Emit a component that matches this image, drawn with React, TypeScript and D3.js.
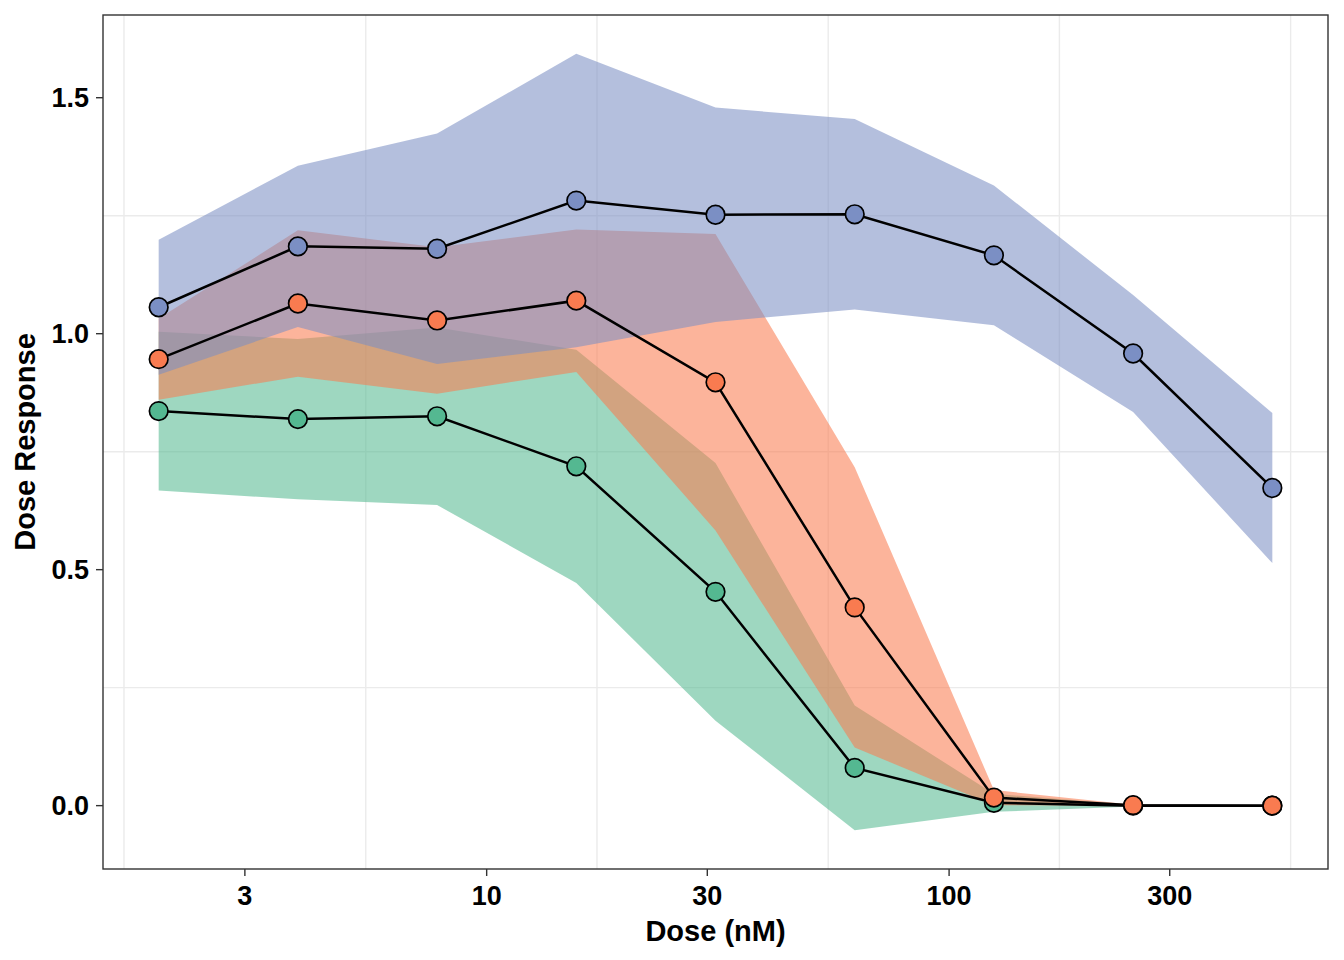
import React from 'react'
import * as d3 from 'd3'

// doses are 2-fold dilutions (nM)
const doses = [1.953125, 3.90625, 7.8125, 15.625, 31.25, 62.5, 125, 250, 500]

const greenMean = [0.836, 0.819, 0.825, 0.719, 0.453, 0.08, 0.006, 0.0, 0.0]
const greenSd = [0.168, 0.17, 0.188, 0.247, 0.273, 0.132, 0.019, 0.002, 0.001]

const orangeMean = [0.946, 1.064, 1.028, 1.07, 0.897, 0.42, 0.017, 0.001, 0.0]
const orangeSd = [0.086, 0.155, 0.155, 0.151, 0.314, 0.297, 0.016, 0.001, 0.001]

const blueMean = [1.056, 1.185, 1.18, 1.282, 1.252, 1.253, 1.166, 0.958, 0.673]
const blueSd = [0.143, 0.171, 0.244, 0.311, 0.227, 0.202, 0.148, 0.124, 0.159]

const xTicks = [3, 10, 30, 100, 300]
const yTicks = [0, 0.5, 1.0, 1.5]

const series = [
  { key: 'green', color: '#54B891', mean: greenMean, sd: greenSd },
  { key: 'orange', color: '#F97B50', mean: orangeMean, sd: orangeSd },
  { key: 'blue', color: '#7B8FC4', mean: blueMean, sd: blueSd },
]

const W = 1344
const H = 960
const panel = { left: 103, right: 1328, top: 15, bottom: 869 }
const font = '"Liberation Sans", Arial, Helvetica, sans-serif'

// ggplot-like 5% expansion
const expand = (lo: number, hi: number) => {
  const d = (hi - lo) * 0.05
  return [lo - d, hi + d]
}

// midpoints between major breaks, extended one step past each end
const minorBreaks = (b: number[], lo: number, hi: number) => {
  const bd0 = b[1] - b[0]
  const ext = [b[0] - bd0, ...b, b[b.length - 1] + bd0]
  const out: number[] = []
  for (let i = 0; i < ext.length - 1; i++) out.push((ext[i] + ext[i + 1]) / 2)
  return out.filter((v) => v > lo && v < hi)
}

export default function App() {
  const logD = doses.map((d) => Math.log10(d))
  const [lx0, lx1] = expand(d3.min(logD)!, d3.max(logD)!)
  const x = d3
    .scaleLog()
    .domain([Math.pow(10, lx0), Math.pow(10, lx1)])
    .range([panel.left, panel.right])

  const lows = series.flatMap((s) => s.mean.map((m, i) => m - s.sd[i]))
  const highs = series.flatMap((s) => s.mean.map((m, i) => m + s.sd[i]))
  const [y0, y1] = expand(d3.min(lows)!, d3.max(highs)!)
  const y = d3.scaleLinear().domain([y0, y1]).range([panel.bottom, panel.top])

  const xMinor = minorBreaks(
    xTicks.map((t) => Math.log10(t)),
    lx0,
    lx1
  ).map((v) => Math.pow(10, v))
  const yMinor = minorBreaks(yTicks, y0, y1)

  return (
    <svg
      width={W}
      height={H}
      style={{ position: 'absolute', left: 0, top: 0, background: '#fff' }}
    >
      <rect x={0} y={0} width={W} height={H} fill="#fff" />
      <defs>
        <clipPath id="panel">
          <rect
            x={panel.left}
            y={panel.top}
            width={panel.right - panel.left}
            height={panel.bottom - panel.top}
          />
        </clipPath>
      </defs>

      {/* minor grid only */}
      {xMinor.map((v) => (
        <line
          key={'xm' + v}
          x1={x(v)}
          x2={x(v)}
          y1={panel.top}
          y2={panel.bottom}
          stroke="#EBEBEB"
          strokeWidth={1.4}
        />
      ))}
      {yMinor.map((v) => (
        <line
          key={'ym' + v}
          x1={panel.left}
          x2={panel.right}
          y1={y(v)}
          y2={y(v)}
          stroke="#EBEBEB"
          strokeWidth={1.4}
        />
      ))}

      <g clipPath="url(#panel)">
        {series.map((s) => {
          const ribbon = d3
            .area<number>()
            .x((_, i) => x(doses[i]))
            .y0((_, i) => y(s.mean[i] - s.sd[i]))
            .y1((_, i) => y(s.mean[i] + s.sd[i]))
          return (
            <path
              key={'rib' + s.key}
              d={ribbon(s.mean) || ''}
              fill={s.color}
              fillOpacity={0.57}
            />
          )
        })}
        {series.map((s) => {
          const line = d3
            .line<number>()
            .x((_, i) => x(doses[i]))
            .y((d) => y(d))
          return (
            <path
              key={'line' + s.key}
              d={line(s.mean) || ''}
              fill="none"
              stroke="#000"
              strokeWidth={2.5}
            />
          )
        })}
        {series.map((s) =>
          s.mean.map((m, i) => (
            <circle
              key={'pt' + s.key + i}
              cx={x(doses[i])}
              cy={y(m)}
              r={9.3}
              fill={s.color}
              stroke="#000"
              strokeWidth={1.7}
            />
          ))
        )}
      </g>

      <rect
        x={panel.left}
        y={panel.top}
        width={panel.right - panel.left}
        height={panel.bottom - panel.top}
        fill="none"
        stroke="#333"
        strokeWidth={1.4}
      />

      {/* x axis */}
      {xTicks.map((t) => (
        <g key={'xt' + t}>
          <line
            x1={x(t)}
            x2={x(t)}
            y1={panel.bottom}
            y2={panel.bottom + 7}
            stroke="#333"
            strokeWidth={1.4}
          />
          <text
            x={x(t)}
            y={panel.bottom + 36}
            textAnchor="middle"
            fontFamily={font}
            fontWeight="bold"
            fontSize={27}
            fill="#000"
          >
            {t}
          </text>
        </g>
      ))}
      <text
        x={(panel.left + panel.right) / 2}
        y={941}
        textAnchor="middle"
        fontFamily={font}
        fontWeight="bold"
        fontSize={29}
        fill="#000"
      >
        Dose (nM)
      </text>

      {/* y axis */}
      {yTicks.map((t) => (
        <g key={'yt' + t}>
          <line
            x1={panel.left - 7}
            x2={panel.left}
            y1={y(t)}
            y2={y(t)}
            stroke="#333"
            strokeWidth={1.4}
          />
          <text
            x={panel.left - 14}
            y={y(t) + 9.5}
            textAnchor="end"
            fontFamily={font}
            fontWeight="bold"
            fontSize={27}
            fill="#000"
          >
            {d3.format('.1f')(t)}
          </text>
        </g>
      ))}
      <text
        transform={`translate(35,${(panel.top + panel.bottom) / 2}) rotate(-90)`}
        textAnchor="middle"
        fontFamily={font}
        fontWeight="bold"
        fontSize={29}
        fill="#000"
      >
        Dose Response
      </text>
    </svg>
  )
}
